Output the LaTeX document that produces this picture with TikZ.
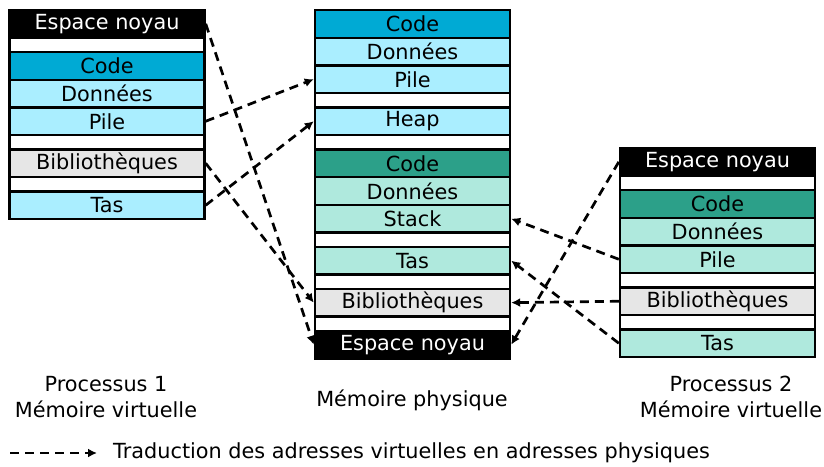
\documentclass[tikz,border=0pt]{standalone}
\usepackage{fontspec}
\setmainfont{DejaVu Sans}
\usetikzlibrary{arrows.meta}
\definecolor{codeblue}{HTML}{00AAD4}
\definecolor{lightblue}{HTML}{AAEEFF}
\definecolor{codegreen}{HTML}{2CA089}
\definecolor{lightgreen}{HTML}{AFE9DD}
\definecolor{libgray}{HTML}{E6E6E6}
\begin{document}
\begin{tikzpicture}[x=1pt,y=-1pt,
  every node/.style={font=\fontsize{20.8}{26.5}\selectfont, inner sep=0pt},
  cell/.style={draw=black, line width=2.4pt, minimum width=195pt, minimum height=27.7pt, anchor=center},
  gapcell/.style={cell, fill=white, minimum height=14.3pt},
  kern/.style={cell, fill=black, text=white},
  bcode/.style={cell, fill=codeblue},
  bdata/.style={cell, fill=lightblue},
  gcode/.style={cell, fill=codegreen},
  gdata/.style={cell, fill=lightgreen},
  libcell/.style={cell, fill=libgray},
  trans/.style={draw=black, line width=2.7pt, dash pattern=on 9pt off 6pt, -{Latex[length=9pt,width=9pt]}}
]
\fill[white] (0,0) rectangle (824,466);
\useasboundingbox (0,0) rectangle (824,466);

% Process 1 (left)
\node[kern]    (l-noyau) at (107,23.85) {Espace noyau};
\node[gapcell] (l-g1)    at (107,44.85) {};
\node[bcode]   (l-code)  at (107,65.85) {Code};
\node[bdata]   (l-don)   at (107,93.55) {Données};
\node[bdata]   (l-pile)  at (107,121.25) {Pile};
\node[gapcell] (l-g2)    at (107,142.25) {};
\node[libcell] (l-bib)   at (107,163.25) {Bibliothèques};
\node[gapcell] (l-g3)    at (107,184.25) {};
\node[bdata]   (l-tas)   at (107,205.25) {Tas};

% Physical memory (middle)
\node[bcode]   (m-code)   at (412.5,23.85) {Code};
\node[bdata]   (m-don)    at (412.5,51.55) {Données};
\node[bdata]   (m-pile)   at (412.5,79.25) {Pile};
\node[gapcell] (m-g1)     at (412.5,100.25) {};
\node[bdata]   (m-heap)   at (412.5,121.25) {Heap};
\node[gapcell] (m-g2)     at (412.5,142.25) {};
\node[gcode]   (m-gcode)  at (412.5,163.25) {Code};
\node[gdata]   (m-gdon)   at (412.5,190.95) {Données};
\node[gdata]   (m-stack)  at (412.5,218.65) {Stack};
\node[gapcell] (m-g3)     at (412.5,239.65) {};
\node[gdata]   (m-tas)    at (412.5,260.65) {Tas};
\node[gapcell] (m-g4)     at (412.5,281.65) {};
\node[libcell] (m-bib)    at (412.5,302.65) {Bibliothèques};
\node[gapcell] (m-g5)     at (412.5,323.65) {};
\node[kern]    (m-noyau)  at (412.5,344.65) {Espace noyau};

% Process 2 (right)
\node[kern]    (r-noyau) at (717.5,161.85) {Espace noyau};
\node[gapcell] (r-g1)    at (717.5,182.85) {};
\node[gcode]   (r-code)  at (717.5,203.85) {Code};
\node[gdata]   (r-don)   at (717.5,231.55) {Données};
\node[gdata]   (r-pile)  at (717.5,259.25) {Pile};
\node[gapcell] (r-g2)    at (717.5,280.25) {};
\node[libcell] (r-bib)   at (717.5,301.25) {Bibliothèques};
\node[gapcell] (r-g3)    at (717.5,322.25) {};
\node[gdata]   (r-tas)   at (717.5,343.25) {Tas};

% Translations
\draw[trans] (l-noyau.east) -- (m-noyau.west);
\draw[trans] (l-pile.east) -- (m-pile.west);
\draw[trans] (l-tas.east) -- (m-heap.west);
\draw[trans] (l-bib.east) -- (m-bib.west);
\draw[trans] (r-noyau.west) -- (m-noyau.east);
\draw[trans] (r-pile.west) -- (m-stack.east);
\draw[trans] (r-bib.west) -- (m-bib.east);
\draw[trans] (r-tas.west) -- (m-tas.east);

% Captions
\node[align=center] (cap-l) at (106,397) {Processus 1\\Mémoire virtuelle};
\node (cap-m) at (412,400) {Mémoire physique};
\node[align=center] (cap-r) at (731,397) {Processus 2\\Mémoire virtuelle};

% Legend
\coordinate (leg-a) at (10,453);
\coordinate (leg-b) at (97,453);
\draw[trans] (leg-a) -- (leg-b);
\node[anchor=west] (leg-t) at (113,453) {Traduction des adresses virtuelles en adresses physiques};
\end{tikzpicture}
\end{document}
